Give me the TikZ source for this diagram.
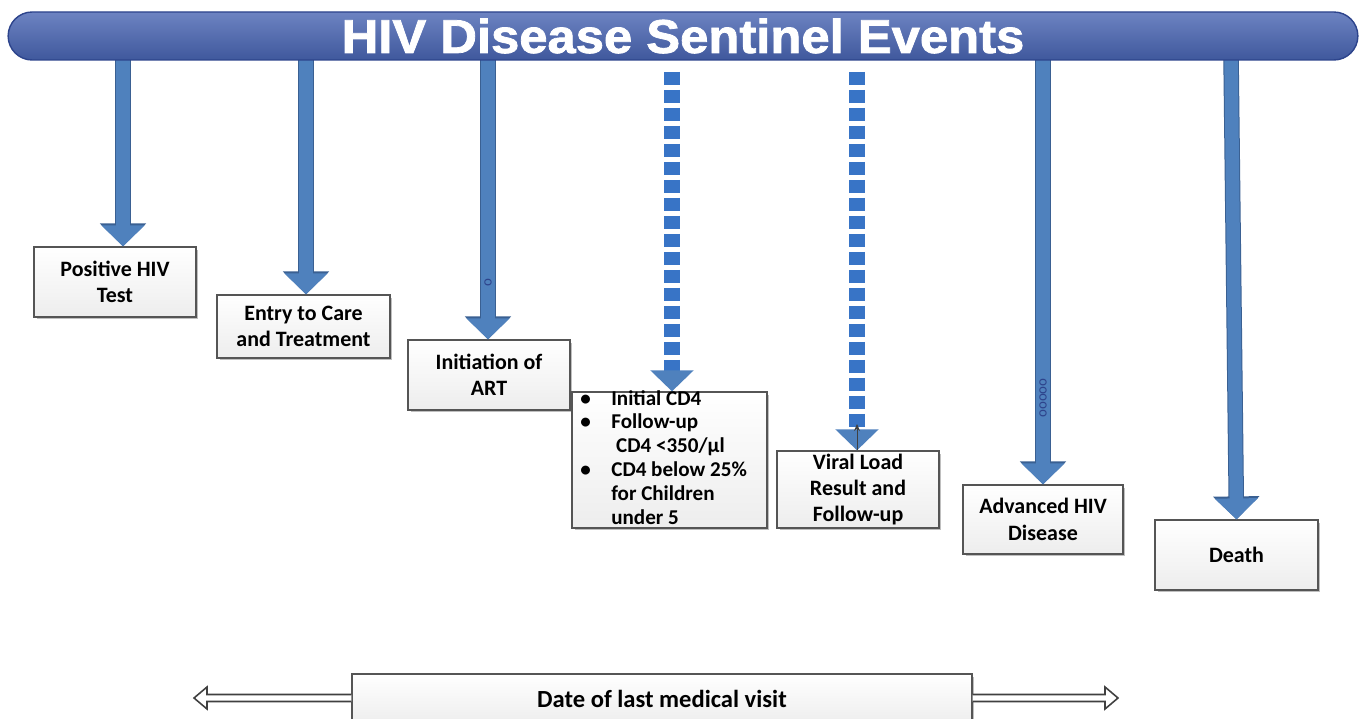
\documentclass[tikz,border=0pt]{standalone}
\usepackage{fontspec}
\setmainfont{Carlito}
\newfontfamily\titlefont{Liberation Sans}[BoldFeatures={FakeBold=1.6}]
\usetikzlibrary{arrows.meta, shadows, calc}
\definecolor{bannerblue}{RGB}{72,100,178}
\definecolor{banneredge}{RGB}{45,68,140}
\definecolor{arrowblue}{RGB}{79,129,189}
\definecolor{arrowedge}{RGB}{58,96,146}
\definecolor{dashblue}{RGB}{56,116,198}
\definecolor{boxedge}{RGB}{85,85,85}
\tikzstyle{event} = [rectangle, draw=boxedge, line width=0.7pt, top color=white, bottom color=gray!14, drop shadow={shadow xshift=0.05cm, shadow yshift=-0.05cm, opacity=0.25, fill=black}, font=\fontsize{12.5}{15}\selectfont\bfseries, align=center, inner sep=0pt]
\tikzstyle{solidarrow} = [draw=arrowblue, line width=0.27cm, -{Triangle[width=0.84cm, length=0.42cm]}, preaction={draw=arrowedge, line width=0.31cm, -{Triangle[width=0.9cm, length=0.46cm]}}]
\tikzstyle{dasharrow} = [draw=dashblue, line width=0.32cm, dash pattern=on 0.26cm off 0.1cm, -{Triangle[width=0.84cm, length=0.42cm, color=arrowblue]}]
\tikzstyle{hollow} = [draw=gray!50!black, line width=0.9pt, fill=white, line join=miter]
\tikzstyle{oomark} = [rotate=90, inner sep=0pt, text=banneredge, font=\fontsize{8.5}{8.5}\selectfont]

\begin{document}
\begin{tikzpicture}[x=0.02cm, y=-0.02cm]
\useasboundingbox (0,0) rectangle (1366,719);
\clip (0,0) rectangle (1366,719);
\fill[white] (0,0) rectangle (1366,719);

% Events
\node (pos) [event, minimum width=3.24cm, minimum height=1.4cm] at (115,282) {Positive HIV\\Test};
\node (entry) [event, minimum width=3.46cm, minimum height=1.26cm] at (303.5,326.5) {Entry to Care\\and Treatment};
\node (art) [event, minimum width=3.24cm, minimum height=1.4cm] at (489,375) {Initiation of\\ART};
\node (cd4) [event, minimum width=3.9cm, minimum height=2.72cm] at (669.5,460) {};
\node (cd4text) [anchor=north west, inner sep=0pt, font=\fontsize{12}{13.6}\selectfont\bfseries] at (580,388)
  {\begin{tabular}{@{}p{0.62cm}@{}l@{}}
  \textbullet & Initial CD4\\
  \textbullet & Follow-up\\
   & \ CD4 <350/µl\\
  \textbullet & CD4 below 25\%\\
   & for Children\\
   & under 5
  \end{tabular}};
\node (viral) [event, minimum width=3.24cm, minimum height=1.54cm] at (858,489.5) {Viral Load\\Result and\\Follow-up};
\node (adv) [event, minimum width=3.2cm, minimum height=1.38cm] at (1043,519.5) {Advanced HIV\\Disease};
\node (death) [event, minimum width=3.26cm, minimum height=1.4cm] at (1236.5,555) {Death};

% Start points under the banner
\coordinate (s1) at (123,55);
\coordinate (s2) at (306,55);
\coordinate (s3) at (488,55);
\coordinate (s4) at (672,72);
\coordinate (s5) at (857,72);
\coordinate (s6) at (1043,55);
\coordinate (s7) at (1231,55);

% Arrows
\draw [solidarrow] (s1) -- (s1 |- pos.north);
\draw [solidarrow] (s2) -- (s2 |- entry.north);
\draw [solidarrow] (s3) -- (s3 |- art.north);
\draw [dasharrow] (s4) -- (s4 |- cd4.north);
\draw [dasharrow] (s5) -- (s5 |- viral.north);
\draw [solidarrow] (s6) -- (adv.north);
\draw [solidarrow] (s7) -- (death.north);

\coordinate (vtop) at (857,424);
\draw [-{Stealth[length=0.14cm, width=0.12cm]}, line width=0.5pt, black!75] (s5 |- viral.north) -- (vtop);
\node (mark3) [oomark] at (488,283) {o};
\node (mark6) [oomark] at (1043,398) {ooooo};

% Banner
\node (banner) [rectangle, rounded corners=0.48cm, minimum width=27cm, minimum height=0.96cm, draw=banneredge, line width=0.8pt, top color=bannerblue!80!white, middle color=bannerblue, bottom color=bannerblue!88!black, text=white, font=\titlefont\bfseries\fontsize{27}{27}\selectfont] at (683,36) {\scalebox{1.07}[1]{HIV Disease Sentinel Events}};

% Last visit
\node (visit) [event, minimum width=12.4cm, minimum height=1cm, font=\fontsize{14}{14}\selectfont\bfseries] at (662,699) {Date of last medical visit};
\coordinate (lefttip) at (194,698);
\coordinate (righttip) at (1118,698);
\draw [hollow] ($(visit.west |- lefttip)+(0,-3.5)$) -- ($(lefttip)+(13,-3.5)$) -- ($(lefttip)+(13,-11)$) -- (lefttip)
  -- ($(lefttip)+(13,11)$) -- ($(lefttip)+(13,3.5)$) -- ($(visit.west |- lefttip)+(0,3.5)$);
\draw [hollow] ($(visit.east |- righttip)+(0,-3.5)$) -- ($(righttip)+(-13,-3.5)$) -- ($(righttip)+(-13,-11)$) -- (righttip)
  -- ($(righttip)+(-13,11)$) -- ($(righttip)+(-13,3.5)$) -- ($(visit.east |- righttip)+(0,3.5)$);
\end{tikzpicture}
\end{document}
